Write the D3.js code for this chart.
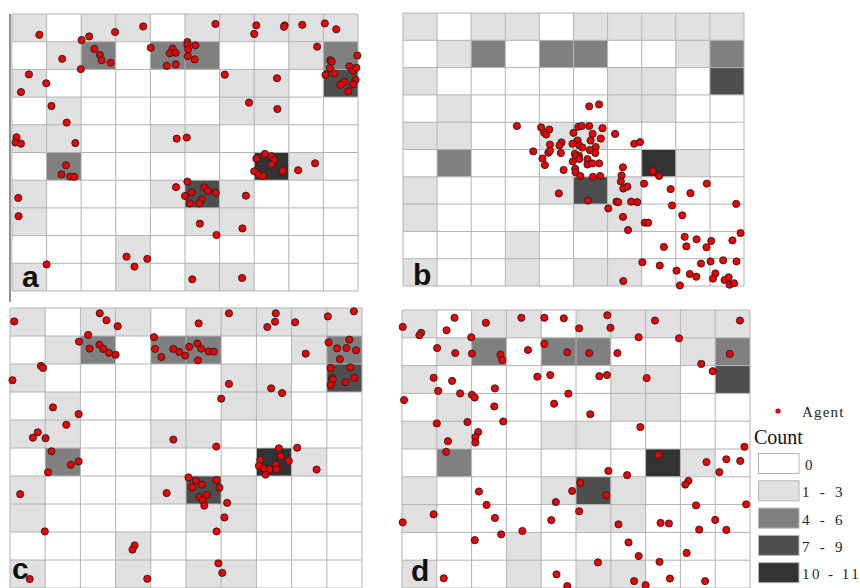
<!DOCTYPE html>
<html>
<head>
<meta charset="utf-8">
<script src="https://cdn.jsdelivr.net/npm/d3@7"></script>
<style>
html,body{margin:0;padding:0;background:#fff;overflow:hidden;}
svg{display:block;}
</style>
</head>
<body>
<svg id="chart" width="860" height="588"></svg>
<script>
// ---- data ----
// class index per cell (0: 0, 1: 1-3, 2: 4-6, 3: 7-9, 4: 10-11), rows top to bottom
const cellClass = [
  [1,0,1,1,0,1,1,1,1,1],
  [0,1,2,0,2,2,0,0,1,2],
  [1,0,0,0,0,0,1,1,0,3],
  [0,1,0,0,0,0,1,1,0,0],
  [1,1,0,0,1,1,0,0,0,0],
  [0,2,0,0,0,0,0,4,1,0],
  [1,0,0,0,1,3,1,0,0,0],
  [1,0,0,0,0,1,1,0,0,0],
  [0,0,0,1,0,0,0,0,0,0],
  [1,0,0,1,0,1,1,0,0,0]
];
const classLabels = ["0", "1 - 3", "4 - 6", "7 - 9", "10 - 11"];
const classColors = ["#ffffff", "#e0e0e0", "#808080", "#4e4e4e", "#333333"];
const panelLabels = ["a", "b", "c", "d"];

// agent positions in grid units [column, row]
const agentsA = [
 [0.79,0.75],[2.01,0.94],[2.23,0.81],[2.98,0.65],[3.79,0.45],[5.88,0.36],[7.06,0.41],[7.00,0.72],[7.88,0.41],[7.86,0.46],[8.39,0.39],[9.04,0.34],[9.37,0.55],
 [1.45,1.62],[1.99,1.99],[2.38,1.26],[2.54,1.48],[2.59,1.67],[2.85,1.76],[4.01,1.22],[4.64,1.25],[4.56,1.42],[4.73,1.40],[4.47,1.87],[4.73,1.82],[5.07,1.01],[5.07,1.12],[5.30,1.13],[5.09,1.28],[5.08,1.52],[5.28,1.64],[8.82,1.18],[9.98,1.50],[9.20,1.67],[9.24,1.72],[9.19,1.96],[9.75,1.89],[9.86,2.05],[9.95,1.94],
 [0.49,2.18],[0.99,2.50],[0.26,2.82],[6.15,2.19],[7.66,2.32],[9.06,2.20],[9.32,2.15],[9.93,2.38],[9.60,2.45],[9.49,2.56],[9.86,2.54],[9.72,2.79],
 [1.14,3.32],[1.58,3.92],[6.85,3.20],[7.67,3.43],
 [0.13,4.45],[0.10,4.64],[0.26,4.68],[1.83,4.66],[4.76,4.50],[5.05,4.46],
 [1.56,5.46],[1.43,5.79],[1.68,5.87],[1.80,5.88],[7.31,5.05],[7.06,5.22],[7.50,5.13],[7.57,5.27],[7.50,5.43],[7.00,5.68],[7.14,5.80],[7.26,5.85],[7.82,5.66],[8.27,5.64],[8.76,5.39],
 [0.18,6.64],[4.74,6.25],[5.07,6.05],[5.19,6.44],[5.00,6.57],[5.56,6.26],[5.66,6.39],[5.89,6.45],[5.49,6.69],[5.41,6.84],[5.14,6.84],[6.76,6.56],
 [0.19,7.30],[5.43,7.57],[6.66,7.74],[5.91,7.98],
 [3.31,8.76],[3.91,8.84],[3.54,9.12],
 [1.00,9.04],[5.21,9.58],[6.65,9.53]
];
const agentsB = [
 [5.46,3.42],[5.75,3.35],
 [3.34,4.14],[4.05,4.19],[4.14,4.38],[4.20,4.45],[4.29,4.27],[5.14,4.17],[5.24,4.14],[5.46,4.14],[5.85,4.22],[5.00,4.39],[5.56,4.43],[5.80,4.60],[5.50,4.67],[6.22,4.43],[6.78,4.79],[6.95,4.73],[4.65,4.74],[4.31,4.82],[4.59,4.85],[4.97,4.79],[5.12,4.67],[5.17,4.85],[5.26,4.93],[5.65,4.91],
 [5.48,5.02],[5.64,5.13],[3.82,5.07],[4.26,5.12],[4.31,5.04],[4.63,5.13],[5.04,5.16],[5.16,5.22],[5.07,5.26],[4.98,5.44],[5.17,5.35],[5.41,5.35],[5.41,5.55],[5.55,5.51],[5.75,5.51],[4.09,5.33],[4.16,5.57],[4.71,5.75],[5.05,5.71],[5.06,5.83],[5.20,5.97],[5.57,6.00],[5.78,5.97],[6.45,5.65],[6.41,5.95],[7.32,5.79],[7.51,5.97],
 [6.39,6.17],[6.46,6.43],[6.58,6.36],[7.07,6.25],[4.57,6.61],[5.42,6.87],[6.26,6.91],[6.31,6.93],[6.69,6.91],[6.87,6.93],[7.85,6.45],[8.43,6.60],[8.91,6.25],[9.77,6.99],
 [6.02,7.16],[7.89,7.05],[8.19,7.41],[6.45,7.47],[6.60,7.95],[7.09,7.68],[7.19,7.68],
 [8.26,8.20],[8.31,8.55],[8.61,8.29],[7.65,8.57],[8.90,8.58],[9.04,8.35],[9.66,8.33],[9.90,8.06],
 [7.02,9.13],[7.53,9.25],[8.02,9.44],[8.12,9.98],[8.41,9.56],[8.60,9.66],[8.74,9.18],[9.02,9.10],[9.39,9.06],[9.78,9.10],[9.16,9.54],[9.09,9.73],[9.43,9.78],[9.55,9.68],[9.58,9.95],[9.71,9.90],[6.46,9.82]
];
const agentsC = [
 [0.12,0.48],[2.55,0.19],[2.74,0.44],[3.06,0.65],[5.36,0.55],[6.22,0.19],[7.55,0.19],[7.53,0.49],[7.31,0.68],[8.10,0.51],[9.03,0.30],[9.77,0.12],
 [2.22,0.96],[1.96,1.20],[2.26,1.45],[2.54,1.31],[2.65,1.46],[2.81,1.60],[3.00,1.67],[4.09,1.04],[4.12,1.46],[4.30,1.75],[4.64,1.46],[4.81,1.57],[4.98,1.70],[5.09,1.39],[5.32,1.27],[5.43,1.45],[5.64,1.55],[5.79,1.56],[5.34,1.87],[8.40,1.63],[9.05,1.23],[9.64,1.13],[9.29,1.44],[9.56,1.43],[9.83,1.51],[9.37,1.83],
 [0.88,2.07],[0.94,2.14],[0.07,2.58],[6.22,2.71],[9.11,2.14],[9.67,2.12],[9.15,2.50],[9.17,2.55],[9.11,2.75],[9.53,2.65],[9.78,2.50],[7.42,2.87],[7.73,3.04],
 [6.00,3.24],[1.22,3.55],[1.95,3.79],
 [1.60,4.17],[0.79,4.44],[0.65,4.63],[1.01,4.65],[4.64,4.70],
 [1.18,5.12],[1.73,5.60],[1.95,5.48],[1.08,5.87],[5.86,4.95],[7.64,5.01],[8.16,4.99],[7.11,5.42],[7.69,5.29],[7.92,5.46],[7.07,5.64],[7.22,5.73],[7.37,5.76],[7.56,5.60],[7.57,5.76],[7.26,5.95],[8.71,5.77],
 [0.29,6.65],[5.07,6.05],[5.28,6.17],[5.45,6.31],[5.18,6.40],[5.86,6.15],[5.95,6.42],[4.45,6.61],[5.59,6.68],[5.38,6.75],[5.47,6.87],[5.52,7.06],[6.17,6.96],
 [6.09,7.48],[0.99,7.98],[5.87,7.98],
 [3.54,8.48],[3.48,8.63],
 [5.92,9.12],[6.03,9.46],[0.56,9.68],[3.90,9.67]
];
const agentsD = [
 [0.02,0.61],[0.55,0.82],[0.50,0.91],[1.51,0.28],[1.28,0.73],[2.41,0.46],[3.43,0.28],[4.09,0.28],[4.65,0.30],[5.09,0.66],[5.90,0.19],[5.99,0.64],[7.27,0.38],[9.71,0.38],
 [1.99,0.98],[1.01,1.37],[1.53,1.55],[2.01,1.57],[2.83,1.61],[2.88,1.80],[3.62,1.44],[4.09,1.22],[4.75,1.52],[5.38,1.55],[6.19,1.55],[6.80,0.98],[7.96,1.02],[8.60,1.94],[8.93,2.20],[9.42,1.58],
 [0.91,2.44],[1.44,2.55],[1.04,2.91],[1.67,3.00],[2.01,3.05],[2.09,3.15],[2.67,2.82],[3.89,2.40],[4.26,2.34],[4.78,3.01],[5.67,2.38],[5.89,2.34],[7.03,2.45],
 [0.06,3.24],[2.65,3.47],[4.37,3.37],[5.41,3.75],
 [1.00,4.08],[1.88,4.03],[2.91,4.01],[2.19,4.39],[2.11,4.57],[2.11,4.77],[1.32,4.72],[6.85,4.21],
 [1.27,5.10],[5.93,5.79],[6.47,5.94],[7.37,5.21],[9.84,4.92],[8.75,5.47],[9.32,5.37],[9.72,5.43],[9.12,5.83],
 [5.12,6.22],[4.89,6.51],[5.87,6.67],[2.21,6.53],[4.42,6.91],[8.23,6.15],[8.14,6.28],[8.45,7.03],[9.89,6.99],
 [0.91,7.35],[0.02,7.64],[2.43,7.01],[2.67,7.48],[4.29,7.56],[5.09,7.24],[6.22,7.71],[7.43,7.66],[7.67,7.68],[8.54,7.90],[9.00,7.55],[9.32,7.91],[2.85,8.07],[3.46,7.95],
 [2.09,8.28],[6.51,8.36],[6.80,8.85],[8.18,8.74],[5.63,9.08],[7.40,9.06],
 [1.20,9.65],[4.44,9.51],[4.75,9.93],[6.67,9.75],[7.00,9.90],[7.70,9.66],[8.71,9.75]
];
const agentSets = [agentsA, agentsB, agentsC, agentsD];

// ---- layout ----
const panels = [
  {x0: 12,  x1: 358, y0: 14,  y1: 291, lx: 22,  ly: 287},
  {x0: 403, x1: 744, y0: 13,  y1: 286, lx: 413, ly: 285},
  {x0: 10,  x1: 362, y0: 308, y1: 588, lx: 12,  ly: 579},
  {x0: 402, x1: 750, y0: 310, y1: 588, lx: 411, ly: 581}
];

const svg = d3.select("#chart");
const color = d3.scaleOrdinal().domain(d3.range(classLabels.length)).range(classColors);

// crop artifact line at left of panel a
svg.append("line").attr("x1", 10).attr("x2", 10).attr("y1", 14).attr("y2", 302)
  .attr("stroke", "#6f6f6f").attr("stroke-width", 1.5);

const cells = [];
cellClass.forEach((row, r) => row.forEach((c, k) => cells.push({row: r, col: k, cls: c})));

panels.forEach((p, i) => {
  const x = d3.scaleLinear().domain([0, 10]).range([p.x0, p.x1]);
  const y = d3.scaleLinear().domain([0, 10]).range([p.y0, p.y1]);
  const g = svg.append("g");
  g.selectAll("rect.cell").data(cells).join("rect")
    .attr("class", "cell")
    .attr("x", d => x(d.col)).attr("y", d => y(d.row))
    .attr("width", d => x(d.col + 1) - x(d.col))
    .attr("height", d => y(d.row + 1) - y(d.row))
    .attr("fill", d => color(d.cls));
  const ticks = d3.range(0, 11);
  g.selectAll("line.v").data(ticks).join("line").attr("class", "v")
    .attr("x1", d => x(d)).attr("x2", d => x(d)).attr("y1", y(0)).attr("y2", y(10))
    .attr("stroke", "#b2b2b2").attr("stroke-width", 1);
  g.selectAll("line.h").data(ticks).join("line").attr("class", "h")
    .attr("y1", d => y(d)).attr("y2", d => y(d)).attr("x1", x(0)).attr("x2", x(10))
    .attr("stroke", "#b2b2b2").attr("stroke-width", 1);
  g.append("text").attr("x", p.lx).attr("y", p.ly)
    .attr("font-family", "Liberation Sans, Arial, sans-serif")
    .attr("font-weight", "bold").attr("font-size", 30).attr("fill", "#111")
    .text(panelLabels[i]);
  g.selectAll("circle").data(agentSets[i]).join("circle")
    .attr("cx", d => x(d[0])).attr("cy", d => y(d[1])).attr("r", 3.6)
    .attr("fill", "#ee0000").attr("stroke", "#222").attr("stroke-width", 0.9);
});

// ---- legend ----
const lg = svg.append("g");
lg.append("circle").attr("cx", 778).attr("cy", 411).attr("r", 2.6).attr("fill", "#e00000");
lg.append("text").attr("x", 802).attr("y", 417)
  .attr("font-family", "Liberation Serif, serif").attr("font-size", 15)
  .attr("letter-spacing", 1.2).attr("fill", "#222").text("Agent");
lg.append("text").attr("x", 754).attr("y", 444)
  .attr("font-family", "Liberation Serif, serif").attr("font-size", 20)
  .attr("fill", "#111").text("Count");
const ly = d3.scaleBand().domain(d3.range(classLabels.length)).range([453, 589.5]);
const items = lg.selectAll("g.item").data(classLabels).join("g").attr("class", "item")
  .attr("transform", (d, i) => `translate(0,${ly(i)})`);
items.append("rect").attr("x", 758.5).attr("y", 0.5).attr("width", 40.5).attr("height", 20)
  .attr("fill", (d, i) => color(i)).attr("stroke", "#b5b5b5").attr("stroke-width", 1);
items.append("text").attr("x", d => d === "0" ? 805 : 802).attr("y", 17)
  .attr("font-family", "Liberation Serif, serif").attr("font-size", 15).attr("fill", "#222")
  .style("white-space", "pre")
  .attr("textLength", d => d.length * 8.1).attr("lengthAdjust", "spacing")
  .text(d => d);
</script>
</body>
</html>
